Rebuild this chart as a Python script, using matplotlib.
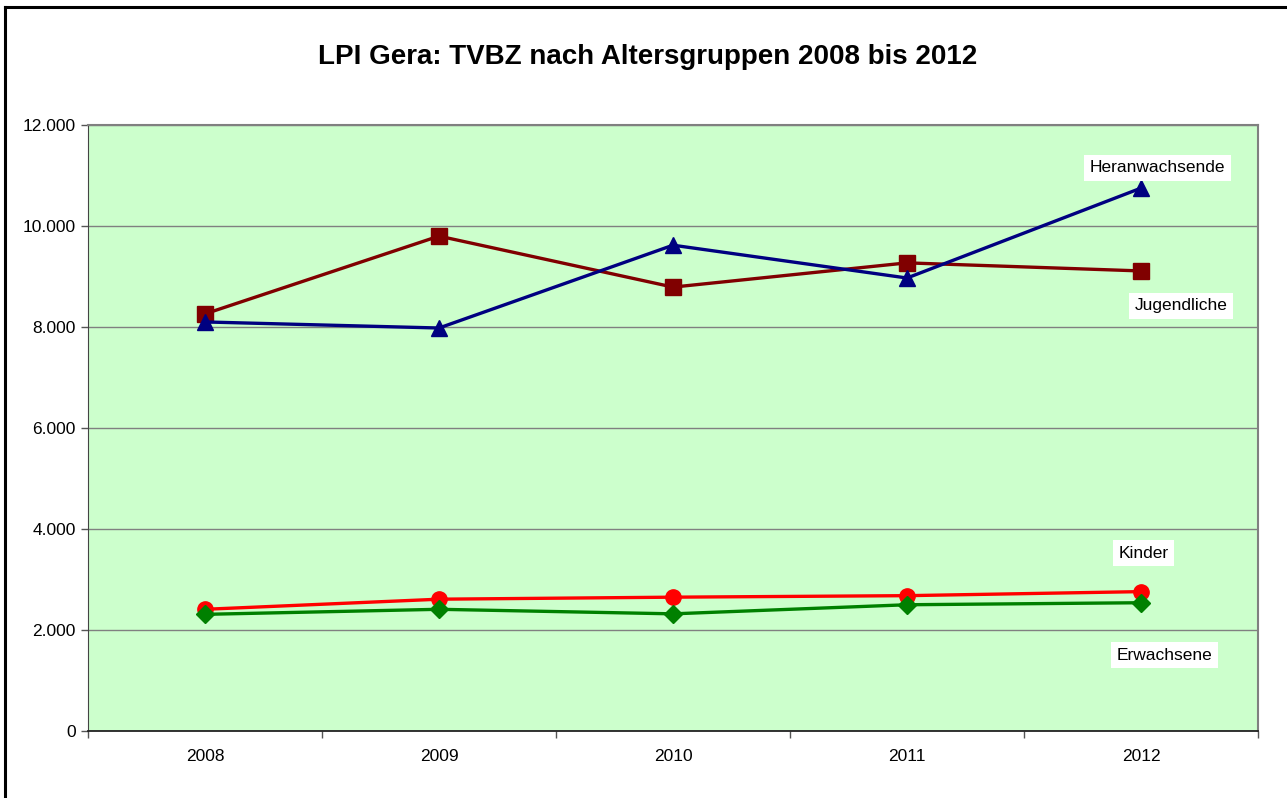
import matplotlib.pyplot as plt
from matplotlib.lines import Line2D
from matplotlib.ticker import FixedLocator, FuncFormatter

plt.rcParams['font.family'] = ['Liberation Sans', 'DejaVu Sans']

# Data
years = ['2008', '2009', '2010', '2011', '2012']
heranwachsende = [8100, 7980, 9620, 8970, 10750]
jugendliche = [8260, 9800, 8790, 9270, 9110]
kinder = [2410, 2610, 2650, 2680, 2760]
erwachsene = [2310, 2410, 2320, 2500, 2540]

fig = plt.figure(figsize=(12.87, 7.98), dpi=100)
ax = fig.add_axes([88 / 1287, 1 - 731 / 798, 1170 / 1287, 606 / 798])
ax.set_facecolor('#CCFFCC')

x = list(range(len(years)))
ax.plot(x, jugendliche, color='#800000', linewidth=2.4, marker='s', markersize=11, zorder=3)
ax.plot(x, heranwachsende, color='#000080', linewidth=2.4, marker='^', markersize=12, zorder=3)
ax.plot(x, kinder, color='#FF0000', linewidth=2.4, marker='o', markersize=11, zorder=3)
ax.plot(x, erwachsene, color='#008000', linewidth=2.4, marker='D', markersize=9, zorder=3)

ax.set_xlim(-0.5, 4.5)
ax.set_ylim(0, 12000)
ax.set_yticks(range(0, 12001, 2000))
ax.yaxis.set_major_formatter(FuncFormatter(lambda v, p: f'{int(v):,}'.replace(',', '.')))
ax.grid(axis='y', color='#808080', linewidth=1.0, zorder=1)

ax.xaxis.set_major_locator(FixedLocator([i - 0.5 for i in range(len(years) + 1)]))
ax.xaxis.set_major_formatter(FuncFormatter(lambda v, p: ''))
ax.xaxis.set_minor_locator(FixedLocator(x))
ax.set_xticklabels(years, minor=True)
ax.tick_params(axis='x', which='minor', length=0, pad=13, labelsize=12.5)
ax.tick_params(axis='x', which='major', length=5, width=1, color='#555555')
ax.tick_params(axis='y', length=5, width=1, color='#555555', labelsize=12.5, pad=4)

for s in ['top', 'right']:
    ax.spines[s].set_color('#808080')
    ax.spines[s].set_linewidth(1.5)
ax.spines['left'].set_color('#444444')
ax.spines['bottom'].set_color('#222222')
ax.spines['bottom'].set_linewidth(1.3)

# series labels
box = dict(facecolor='white', edgecolor='none', pad=4)
ax.text(4.07, 11150, 'Heranwachsende', ha='center', va='center', fontsize=12.5, bbox=box, zorder=4)
ax.text(4.17, 8420, 'Jugendliche', ha='center', va='center', fontsize=12.5, bbox=box, zorder=4)
ax.text(4.01, 3520, 'Kinder', ha='center', va='center', fontsize=12.5, bbox=box, zorder=4)
ax.text(4.1, 1500, 'Erwachsene', ha='center', va='center', fontsize=12.5, bbox=box, zorder=4)

fig.text(0.503, 1 - 57 / 798, 'LPI Gera: TVBZ nach Altersgruppen 2008 bis 2012',
         ha='center', va='center', fontsize=20, fontweight='bold')

# outer chart frame (cut off at right and bottom)
fig.add_artist(Line2D([5 / 1287, 1.0], [1 - 7 / 798, 1 - 7 / 798], color='black', linewidth=2.2))
fig.add_artist(Line2D([5 / 1287, 5 / 1287], [0.0, 1 - 7 / 798], color='black', linewidth=2.2))

plt.savefig('out.png', dpi=100)
